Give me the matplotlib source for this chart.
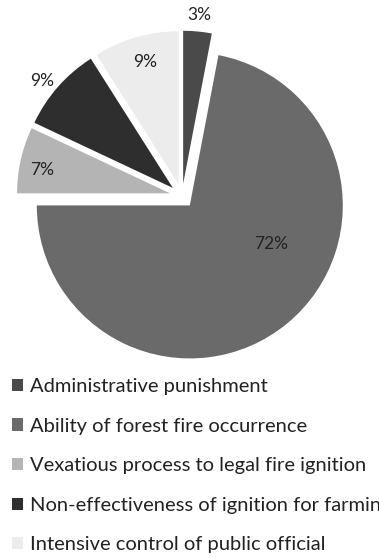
import matplotlib.pyplot as plt
from matplotlib.patches import Patch
import numpy as np

plt.rcParams["font.family"] = ["Lato", "DejaVu Sans"]

# Survey shares, clockwise from 12 o'clock
categories = [
    "Administrative punishment",
    "Ability of forest fire occurrence",
    "Vexatious process to legal fire ignition",
    "Non-effectiveness of ignition for farming",
    "Intensive control of public official",
]
shares = [3, 72, 7, 9, 9]
colors = ["#4a4a4a", "#6a6a6a", "#b4b4b4", "#2e2e2e", "#ececec"]

# label placement (radius from centre, angular offset from slice middle)
label_radius = [1.19, 0.66, 0.93, 1.18, 0.91]
label_offset = [0, 22, 2, 2, -1]

fig = plt.figure(figsize=(3.79, 5.58), dpi=100)
W, H = 379, 558
cx, cy, r = 182, 196, 153
lim = 1.15
ax = fig.add_axes([(cx - lim * r) / W, (H - cy - lim * r) / H,
                   2 * lim * r / W, 2 * lim * r / H])

wedges, _ = ax.pie(
    shares,
    colors=colors,
    startangle=90,
    counterclock=False,
    explode=[0.08] * len(shares),
    radius=1.0,
    wedgeprops=dict(linewidth=0),
)
ax.set_xlim(-lim, lim)
ax.set_ylim(-lim, lim)
ax.set_aspect("equal")
ax.axis("off")

for w, s, lr, off in zip(wedges, shares, label_radius, label_offset):
    ang = np.deg2rad((w.theta1 + w.theta2) / 2 + off)
    ax.text(lr * np.cos(ang), lr * np.sin(ang), f"{s}%",
            ha="center", va="center", fontsize=12.5, color="#222222")

# the last label runs past the right edge, as in the printed figure
handles = [Patch(facecolor=c, edgecolor="none") for c in colors]
fig.legend(
    handles, categories,
    loc="upper left",
    bbox_to_anchor=(4 / W, (H - 370) / H),
    frameon=False,
    fontsize=14.5,
    handlelength=0.55,
    handleheight=0.55,
    handletextpad=0.35,
    labelspacing=1.12,
    labelcolor="#222222",
    borderaxespad=0,
)

fig.savefig("out.png", dpi=100)
